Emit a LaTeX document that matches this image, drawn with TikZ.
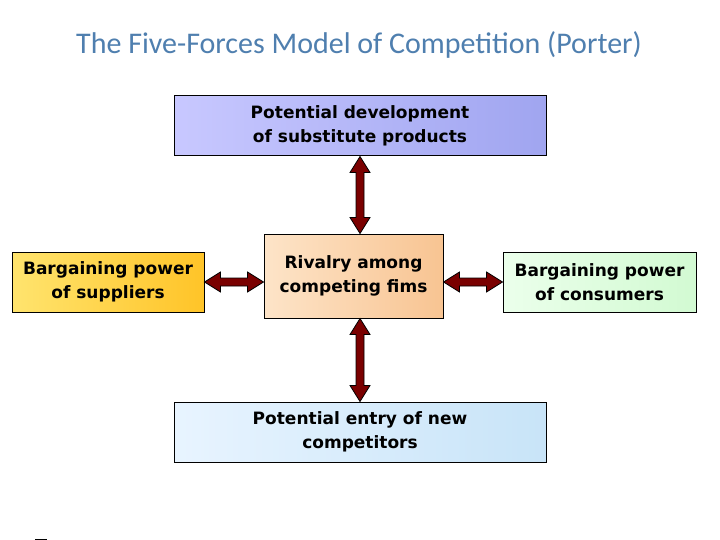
\documentclass[tikz,border=0pt]{standalone}
\usepackage{fontspec}
\setmainfont{DejaVu Sans}
\newfontfamily\titlefont{Carlito}
\usetikzlibrary{calc}
\definecolor{arrred}{HTML}{7A0000}
\definecolor{titleblue}{HTML}{4F7FAF}
\tikzset{
  box/.style={draw=black, line width=1pt, inner sep=0pt, align=center, font=\bfseries\fontsize{17}{24}\selectfont},
  dbl/.style={draw=black, fill=arrred, line width=0.8pt, line join=miter}
}
\newcommand\vdbl[2]{% from #1 (top) to #2 (bottom), y grows downward
  \path[dbl] (#1) -- ($(#1)+(-10,16)$) -- ($(#1)+(-4,16)$) -- ($(#2)+(-4,-16)$) -- ($(#2)+(-10,-16)$) -- (#2) -- ($(#2)+(10,-16)$) -- ($(#2)+(4,-16)$) -- ($(#1)+(4,16)$) -- ($(#1)+(10,16)$) -- cycle;}
\newcommand\hdbl[2]{% from #1 (left) to #2 (right)
  \path[dbl] (#1) -- ($(#1)+(16,10)$) -- ($(#1)+(16,4)$) -- ($(#2)+(-16,4)$) -- ($(#2)+(-16,10)$) -- (#2) -- ($(#2)+(-16,-10)$) -- ($(#2)+(-16,-4)$) -- ($(#1)+(16,-4)$) -- ($(#1)+(16,-10)$) -- cycle;}
\begin{document}
\begin{tikzpicture}[x=1pt,y=-1pt]
\useasboundingbox (0,0) rectangle (720,540);
\fill[white] (0,0) rectangle (720,540);
\node[font=\titlefont\fontsize{30}{34}\selectfont, text=titleblue] (title) at (359,45) {The Five-Forces Model of Competition (Porter)};
\node[box, minimum width=372, minimum height=60, left color={rgb,255:red,200;green,200;blue,255}, right color={rgb,255:red,160;green,165;blue,240}] (top) at (360,126) {Potential development\\ of substitute products};
\node[box, minimum width=192, minimum height=60, left color={rgb,255:red,255;green,228;blue,110}, right color={rgb,255:red,255;green,196;blue,40}] (left) at (108,282) {Bargaining power\\of suppliers};
\node[box, minimum width=179, minimum height=84, left color={rgb,255:red,253;green,228;blue,200}, right color={rgb,255:red,248;green,196;blue,146}] (mid) at (353.5,276) {Rivalry among\\competing fims};
\node[box, minimum width=193, minimum height=60, left color={rgb,255:red,235;green,255;blue,235}, right color={rgb,255:red,210;green,250;blue,210}] (right) at (599.5,282) {Bargaining power\\of consumers};
\node[box, minimum width=372, minimum height=60, left color={rgb,255:red,232;green,244;blue,255}, right color={rgb,255:red,200;green,228;blue,248}] (bot) at (360,432) {Potential entry of new\\competitors};
\coordinate (a1) at (top.south);
\coordinate (a2) at (top.south |- mid.north);
\vdbl{a1}{a2}
\coordinate (b1) at (bot.north |- mid.south);
\coordinate (b2) at (bot.north);
\vdbl{b1}{b2}
\coordinate (c1) at (left.east);
\coordinate (c2) at (mid.west |- left.east);
\hdbl{c1}{c2}
\coordinate (d1) at (mid.east |- right.west);
\coordinate (d2) at (right.west);
\hdbl{d1}{d2}
\coordinate (m1) at (35,539); \coordinate (m2) at (47,539);
\draw[line width=1pt] (m1) -- (m2);
\end{tikzpicture}
\end{document}
